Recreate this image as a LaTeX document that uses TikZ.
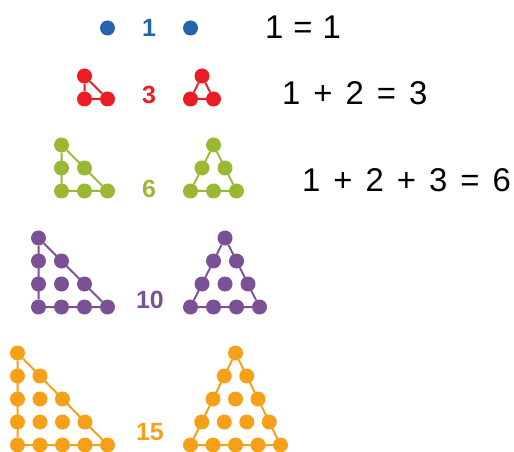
\documentclass[tikz,border=0pt]{standalone}
\usepackage{fontspec}
\setmainfont{Liberation Sans}
\usepackage{tikz}
\usetikzlibrary{positioning}

\definecolor{tblue}{HTML}{2364AA}
\definecolor{tred}{HTML}{EC1C24}
\definecolor{tgreen}{HTML}{9AB833}
\definecolor{tpurple}{HTML}{7A5195}
\definecolor{torange}{HTML}{F6A01A}

\begin{document}
\begin{tikzpicture}[
    x=1bp, y=-1bp,
    dot/.style={circle, inner sep=0pt, minimum size=15bp},
    count/.style={inner sep=0pt, font=\fontsize{25}{29}\selectfont\bfseries},
    sum/.style={anchor=west, inner sep=0pt, font=\fontsize{33}{38}\selectfont,
        execute at begin node={\spaceskip=13bp\relax}},
    edge/.style={line width=2bp},
]
\useasboundingbox (0,0) rectangle (514,452);

% Row 1: one dot
\node[dot, fill=tblue] (bL) at (107.5,28) {};
\node[count, text=tblue] (bN) at (149,28) {1};
\node[dot, fill=tblue] (bR) at (190.5,28) {};
\node[sum, execute at begin node={\spaceskip=10bp\relax}] (sum1) at (265,27) {1 = 1};

% Row 2: three dots
\foreach \r in {1,2} \foreach \j in {1,...,\r} {
  \node[dot, fill=tred] (rL-\r-\j) at ({107.5+(\j-2)*23}, {99-(2-\r)*23}) {};
  \node[dot, fill=tred] (rR-\r-\j) at ({190.5+(2-\r)*11.5+(\j-1)*23}, {99-(2-\r)*23}) {};
}
\draw[edge, tred] (rL-1-1) -- (rL-2-1) -- (rL-2-2) -- (rL-1-1);
\draw[edge, tred] (rR-1-1) -- (rR-2-1) -- (rR-2-2) -- (rR-1-1);
\node[count, text=tred] (rN) at (149,95) {3};
\node[sum] (sum2) at (282,93) {1 + 2 = 3};

% Row 3: six dots
\foreach \r in {1,2,3} \foreach \j in {1,...,\r} {
  \node[dot, fill=tgreen] (gL-\r-\j) at ({107.5+(\j-3)*23}, {191-(3-\r)*23}) {};
  \node[dot, fill=tgreen] (gR-\r-\j) at ({190.5+(3-\r)*11.5+(\j-1)*23}, {191-(3-\r)*23}) {};
}
\draw[edge, tgreen] (gL-1-1) -- (gL-3-1) -- (gL-3-3) -- (gL-1-1);
\draw[edge, tgreen] (gR-1-1) -- (gR-3-1) -- (gR-3-3) -- (gR-1-1);
\node[count, text=tgreen] (gN) at (149,189) {6};
\node[sum] (sum3) at (302,180) {1 + 2 + 3 = 6};

% Row 4: ten dots
\foreach \r in {1,...,4} \foreach \j in {1,...,\r} {
  \node[dot, fill=tpurple] (pL-\r-\j) at ({107.5+(\j-4)*23}, {307-(4-\r)*23}) {};
  \node[dot, fill=tpurple] (pR-\r-\j) at ({190.5+(4-\r)*11.5+(\j-1)*23}, {307-(4-\r)*23}) {};
}
\draw[edge, tpurple] (pL-1-1) -- (pL-4-1) -- (pL-4-4) -- (pL-1-1);
\draw[edge, tpurple] (pR-1-1) -- (pR-4-1) -- (pR-4-4) -- (pR-1-1);
\node[count, text=tpurple] (pN) at (150,300) {10};

% Row 5: fifteen dots
\foreach \r in {1,...,5} \foreach \j in {1,...,\r} {
  \node[dot, fill=torange] (oL-\r-\j) at ({107.5+(\j-5)*22.5}, {445-(5-\r)*23}) {};
  \node[dot, fill=torange] (oR-\r-\j) at ({190.5+(5-\r)*11.25+(\j-1)*22.5}, {445-(5-\r)*23}) {};
}
\draw[edge, torange] (oL-1-1) -- (oL-5-1) -- (oL-5-5) -- (oL-1-1);
\draw[edge, torange] (oR-1-1) -- (oR-5-1) -- (oR-5-5) -- (oR-1-1);
\node[count, text=torange] (oN) at (150,432) {15};

\end{tikzpicture}
\end{document}
